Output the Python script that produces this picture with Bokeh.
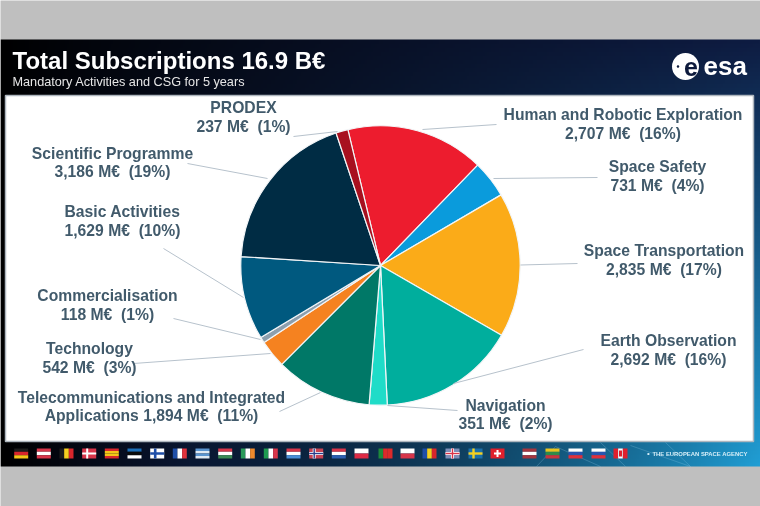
import numpy as np
from bokeh.plotting import figure
from bokeh.core.properties import value
from bokeh.embed import file_html
from bokeh.resources import INLINE

# ---- data ----
names = ["Human and Robotic Exploration", "Space Safety", "Space Transportation", "Earth Observation",
         "Navigation", "Telecommunications and Integrated", "Technology", "Commercialisation",
         "Basic Activities", "Scientific Programme", "PRODEX"]
amounts = [2707, 731, 2835, 2692, 351, 1894, 542, 118, 1629, 3186, 237]
percents = [16, 4, 17, 16, 2, 11, 3, 1, 10, 19, 1]
colors = ["#ed1c2e", "#0a9bdc", "#fbab18", "#00ae9d", "#1fdcc8", "#007867", "#f58220", "#8c9fae",
          "#00597f", "#002c44", "#a8101f"]
label_x = [622.5, 657, 663.5, 668, 505, 151, 89, 107, 122, 112, 243]
label_y = [114.3, 166.3, 250.3, 340.3, 404.8, 396.8, 348.3, 295.3, 211.3, 152.8, 107.3]
leader_x0 = [422, 493, 520, 453, 387, 320, 270, 260, 243, 267, 337]
leader_y0 = [129, 178, 264.5, 383, 405, 392, 353, 339, 297, 178, 131]
leader_x1 = [496, 597, 577, 583, 457, 279, 133, 173, 163, 187, 293]
leader_y1 = [124, 177, 263, 349, 410, 411, 363, 318, 248, 163, 136]

title = "Total Subscriptions 16.9 B€"
subtitle = "Mandatory Activities and CSG for 5 years"
footer = "THE EUROPEAN SPACE AGENCY"

W, H = 760, 506
FONT = value("Liberation Sans")
Y = lambda y: H - y

p = figure(width=W, height=H, x_range=(0, W), y_range=(0, H), output_backend="svg",
           toolbar_location=None, min_border=0, outline_line_color=None,
           background_fill_color="#bfbfbf", border_fill_color="#bfbfbf")
p.axis.visible = False
p.grid.visible = False
p.styles = {"position": "fixed", "left": "0", "top": "0"}

# ---- slide background gradient ----
nx, ny = 380, 107
t = np.linspace(0, 1, nx)[None, :, None]
v = np.linspace(1, 0, ny)[:, None, None]   # row 0 is the bottom row
top = np.array([14, 28, 66], float)[None, None, :] * t ** 0.8
bottom = np.array([32, 158, 212], float)[None, None, :] * t ** 2.0 + np.array([10, 18, 50], float)[None, None, :] * np.minimum(t * 4, 1) * (1 - t)
rgb = top * (1 - v) + bottom * v
img = np.zeros((ny, nx), dtype=np.uint32)
view = img.view(dtype=np.uint8).reshape((ny, nx, 4))
view[..., :3] = rgb.astype(np.uint8)
view[..., 3] = 255
p.image_rgba(image=[img], x=0, y=Y(466), dw=W, dh=427)

# ---- faint network lines in the footer band ----
p.segment(x0=[536, 555, 600, 630, 690], y0=[Y(466), Y(446), Y(442), Y(445), Y(466)],
          x1=[555, 600, 625, 690, 665], y1=[Y(446), Y(466), Y(466), Y(466), Y(442)],
          line_color="#9fd4ee", line_alpha=0.3, line_width=0.8)

# ---- white panel ----
p.quad(left=5, right=753, bottom=Y(441), top=Y(95), fill_color="#ffffff", line_color="#aeb6be", line_width=1.5)

# ---- pie ----
cx, cy, r = 380, Y(265), 139.7
start_deg = -13.5
total = sum(amounts)
cum = np.cumsum([0] + amounts) / total * 2 * np.pi + np.deg2rad(start_deg)
starts = np.pi / 2 - cum[1:]
ends = np.pi / 2 - cum[:-1]
p.wedge(x=cx, y=cy, radius=r, start_angle=starts, end_angle=ends, direction="anticlock",
        fill_color=colors, line_color="#f2f5f7", line_width=1.2)

# ---- leader lines ----
p.segment(x0=leader_x0, y0=[Y(a) for a in leader_y0], x1=leader_x1, y1=[Y(a) for a in leader_y1],
          line_color="#b7c2cc", line_width=1)

# ---- labels ----
line2 = [f"{a:,} M€\u00a0 ({q}%)" for a, q in zip(amounts, percents)]
line2[5] = "Applications " + line2[5]
TXT = "#415a6b"
p.text(x=label_x, y=[Y(a) for a in label_y], text=names, text_font=FONT, text_font_style="bold",
       text_font_size="15.7px", text_color=TXT, text_align="center", text_baseline="middle")
p.text(x=label_x, y=[Y(a + 18.5) for a in label_y], text=line2, text_font=FONT, text_font_style="bold",
       text_font_size="15.7px", text_color=TXT, text_align="center", text_baseline="middle")

# ---- header ----
p.text(x=[12], y=[Y(60)], text=[title], text_font=FONT, text_font_style="bold", text_font_size="24px",
       text_color="#ffffff", text_align="left", text_baseline="middle")
p.text(x=[12], y=[Y(81.5)], text=[subtitle], text_font=FONT, text_font_size="12.7px",
       text_color="#e6e6e6", text_align="left", text_baseline="middle")

# ---- esa logo ----
p.circle(x=[685], y=[Y(66)], radius=13.5, fill_color="#ffffff", line_color=None)
p.circle(x=[677.5], y=[Y(66)], radius=1.3, fill_color="#0d1a3c", line_color=None)
p.text(x=[690.5], y=[Y(66)], text=["e"], text_font=FONT, text_font_style="bold", text_font_size="25px",
       text_color="#0d1a3c", text_align="center", text_baseline="middle")
p.text(x=[703], y=[Y(65.5)], text=["esa"], text_font=FONT, text_font_style="bold", text_font_size="26px",
       text_color="#ffffff", text_align="left", text_baseline="middle")

# ---- flags ----
flag_x = [20.7, 43.3, 66, 88.7, 111.3, 134, 156.7, 179.3, 202, 224.7, 247.3, 270.3, 293, 315.7, 338.3, 361,
          385, 407, 429, 452, 475, 497, 529, 552, 575, 598, 620]
flag_stripes = [
    ("h", ["#1c1c1c", "#d8262c", "#f5c518"]), ("h", ["#d8354a", "#ffffff", "#d8354a"]),
    ("v", ["#1c1c1c", "#f5d020", "#d8262c"]), ("h", ["#d8354a"]),
    ("h", ["#d8262c", "#f5c518", "#f5c518", "#d8262c"]), ("h", ["#1c6fb8", "#0a0a0a", "#ffffff"]),
    ("h", ["#ffffff"]), ("v", ["#1f4fa8", "#ffffff", "#e0323c"]),
    ("h", ["#5a94cf", "#dfe9f3", "#5a94cf", "#dfe9f3"]), ("h", ["#d8354a", "#ffffff", "#3c8a55"]),
    ("v", ["#2a9a5a", "#ffffff", "#f08a2c"]), ("v", ["#1e9a50", "#ffffff", "#d8354a"]),
    ("h", ["#d8354a", "#ffffff", "#4a8fd8"]), ("h", ["#c84455"]),
    ("h", ["#d8354a", "#ffffff", "#2c5fb0"]), ("h", ["#ffffff", "#dc2a45"]),
    ("v", ["#1e8a3a", "#dc2a2a", "#dc2a2a"]), ("h", ["#ffffff", "#d8354a"]),
    ("v", ["#1f4fa8", "#f5d020", "#d8262c"]), ("h", ["#7f8fb8"]),
    ("h", ["#1c6fa8"]), ("h", ["#e0202c"]),
    ("h", ["#a5363f", "#ffffff", "#a5363f"]), ("h", ["#e8c420", "#2f8a4a", "#c8353c"]),
    ("h", ["#ffffff", "#2a55b0", "#e0303c"]), ("h", ["#ffffff", "#2a55b0", "#e0303c"]),
    ("v", ["#e0202c", "#ffffff", "#e0202c"]),
]
FW, FH = 14, 10
for fx, (kind, cols) in zip(flag_x, flag_stripes):
    n = len(cols)
    if kind == "h":
        for i, c in enumerate(cols):
            p.quad(left=fx - FW / 2, right=fx + FW / 2, top=Y(453 - FH / 2 + i * FH / n),
                   bottom=Y(453 - FH / 2 + (i + 1) * FH / n), fill_color=c, line_color=None)
    else:
        for i, c in enumerate(cols):
            p.quad(left=fx - FW / 2 + i * FW / n, right=fx - FW / 2 + (i + 1) * FW / n, top=Y(448),
                   bottom=Y(458), fill_color=c, line_color=None)

def cross(fx, col, w=2.0, off=-2):
    p.quad(left=fx - FW / 2, right=fx + FW / 2, top=Y(453 - w / 2), bottom=Y(453 + w / 2), fill_color=col, line_color=None)
    p.quad(left=fx + off - w / 2, right=fx + off + w / 2, top=Y(448), bottom=Y(458), fill_color=col, line_color=None)

cross(flag_x[3], "#ffffff")
cross(flag_x[6], "#1f4fa8", 2.6)
cross(flag_x[13], "#ffffff", 3)
cross(flag_x[13], "#2c3f8c", 1.4)
cross(flag_x[19], "#ffffff", 3, 0)
cross(flag_x[19], "#d8354a", 1.4, 0)
cross(flag_x[20], "#f5d020", 2.4)
p.quad(left=flag_x[21] - 3.5, right=flag_x[21] + 3.5, top=Y(452), bottom=Y(454), fill_color="#ffffff", line_color=None)
p.quad(left=flag_x[21] - 1, right=flag_x[21] + 1, top=Y(449.5), bottom=Y(456.5), fill_color="#ffffff", line_color=None)
p.quad(left=flag_x[26] - 1.5, right=flag_x[26] + 1.5, top=Y(450), bottom=Y(456), fill_color="#e0202c", line_color=None)

# ---- footer ----
p.text(x=[646.5], y=[Y(453)], text=["•"], text_font=FONT, text_font_size="8px", text_color="#d6eef8",
       text_align="left", text_baseline="middle")
p.text(x=[652], y=[Y(453)], text=[footer], text_font=FONT, text_font_style="bold", text_font_size="5.9px",
       text_color="#d6eef8", text_align="left", text_baseline="middle")

open("out.html", "w").write(file_html(p, INLINE))
